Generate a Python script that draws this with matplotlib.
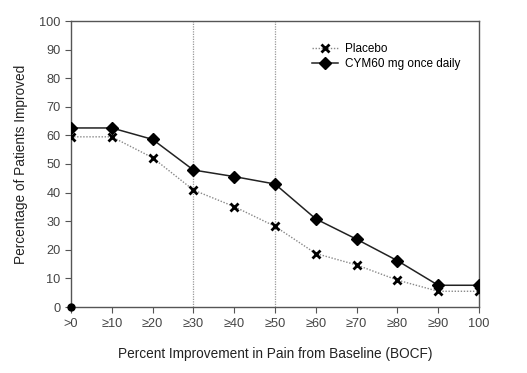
import matplotlib
matplotlib.use("Agg")
import matplotlib.pyplot as plt

plt.rcParams['font.family'] = ['Liberation Sans', 'DejaVu Sans']

categories = [">0", "≥10", "≥20", "≥30", "≥40", "≥50", "≥60", "≥70", "≥80", "≥90", "100"]
placebo = [59.5, 59.5, 52.2, 40.9, 35.1, 28.2, 18.7, 14.7, 9.4, 5.5, 5.5]
cym60 = [62.6, 62.6, 58.6, 47.9, 45.6, 43.0, 30.8, 23.7, 16.2, 7.6, 7.6]
yticks = [0, 10, 20, 30, 40, 50, 60, 70, 80, 90, 100]
vlines_at = [3, 5]

fig = plt.figure(figsize=(5.27, 3.73), dpi=100)
ax = fig.add_axes([71/527, 1-307/373, (479-71)/527, (307-21)/373])

x = list(range(len(categories)))
for v in vlines_at:
    ax.axvline(v, color='#999999', linestyle=(0, (1, 1)), linewidth=0.9, zorder=1)

ax.plot(x, placebo, color='#888888', linestyle=(0, (1, 1.2)), linewidth=1.0,
        marker='x', markersize=5.5, markeredgewidth=2.0, markeredgecolor='black',
        label='Placebo', zorder=3)
ax.plot(x, cym60, color='#222222', linestyle='-', linewidth=1.1,
        marker='D', markersize=6, markerfacecolor='black', markeredgecolor='black',
        label='CYM60 mg once daily', zorder=4)
ax.plot([0], [0], marker='o', color='black', markersize=5, clip_on=False, zorder=5)

ax.set_xlim(0, len(categories) - 1)
ax.set_ylim(0, 100)
ax.set_xticks(x)
ax.set_xticklabels(categories)
ax.set_yticks(yticks)
for s in ax.spines.values():
    s.set_color('#555555')
    s.set_linewidth(1.0)
ax.tick_params(axis='both', direction='out', length=4, width=0.8, colors='#555555',
               labelcolor='#444444', labelsize=9.2)
ax.tick_params(axis='x', pad=4)

ax.set_xlabel('Percent Improvement in Pain from Baseline (BOCF)', fontsize=9.8, color='#222222', labelpad=12)
ax.set_ylabel('Percentage of Patients Improved', fontsize=9.8, color='#222222', labelpad=8)

ax.legend(loc='upper left', bbox_to_anchor=(0.58, 0.94), frameon=False, fontsize=8.5,
          handlelength=2.2, handletextpad=0.6, labelspacing=0.3, borderaxespad=0)

fig.savefig('out.png', dpi=100)
